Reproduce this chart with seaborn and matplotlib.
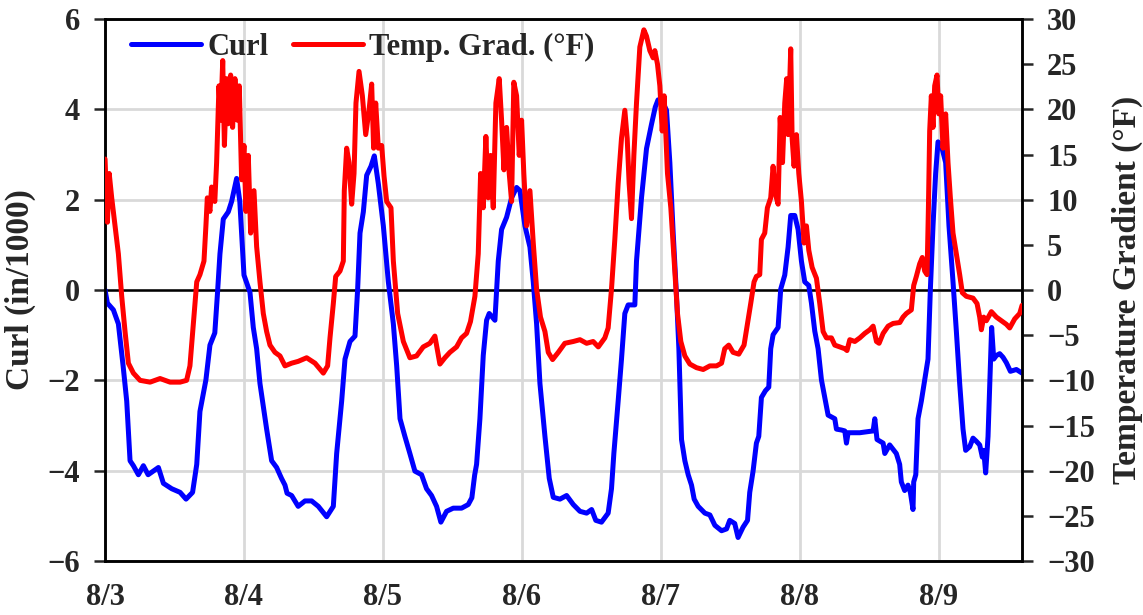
import numpy as np
import pandas as pd
import matplotlib
matplotlib.use("Agg")
import matplotlib.pyplot as plt
import seaborn as sns

# ---- data (time in days since 8/3 00:00) ----
curl_t = [0.000, 0.017, 0.060, 0.096, 0.130, 0.156, 0.180, 0.204, 0.240, 0.276, 0.310, 0.384, 0.420, 0.480,
          0.540, 0.583, 0.630, 0.660, 0.683, 0.726, 0.755, 0.790, 0.808, 0.827, 0.851, 0.887, 0.911, 0.947,
          0.970, 1.000, 1.043, 1.067, 1.091, 1.115, 1.163, 1.199, 1.235, 1.270, 1.295, 1.310, 1.343, 1.390,
          1.439, 1.487, 1.535, 1.595, 1.643, 1.667, 1.703, 1.727, 1.763, 1.799, 1.818, 1.835, 1.859, 1.883,
          1.914, 1.938, 1.967, 2.003, 2.039, 2.075, 2.099, 2.123, 2.158, 2.194, 2.230, 2.278, 2.314, 2.350,
          2.386, 2.417, 2.458, 2.506, 2.566, 2.614, 2.640, 2.660, 2.674, 2.698, 2.722, 2.746, 2.765, 2.806,
          2.830, 2.854, 2.890, 2.926, 2.962, 2.986, 3.022, 3.058, 3.082, 3.106, 3.130, 3.166, 3.197, 3.226,
          3.274, 3.322, 3.370, 3.418, 3.466, 3.502, 3.532, 3.573, 3.621, 3.645, 3.662, 3.693, 3.717, 3.741,
          3.765, 3.813, 3.825, 3.861, 3.897, 3.933, 3.960, 3.980, 4.005, 4.041, 4.065, 4.089, 4.113, 4.130,
          4.149, 4.173, 4.197, 4.221, 4.240, 4.269, 4.317, 4.353, 4.389, 4.437, 4.473, 4.496, 4.532, 4.556,
          4.592, 4.624, 4.640, 4.664, 4.688, 4.705, 4.724, 4.753, 4.777, 4.791, 4.808, 4.844, 4.863, 4.892,
          4.916, 4.935, 4.964, 4.988, 5.012, 5.036, 5.065, 5.084, 5.108, 5.132, 5.156, 5.180, 5.204, 5.252,
          5.264, 5.300, 5.324, 5.336, 5.348, 5.432, 5.528, 5.540, 5.556, 5.600, 5.612, 5.647, 5.695, 5.719,
          5.731, 5.755, 5.779, 5.796, 5.815, 5.820, 5.835, 5.851, 5.875, 5.899, 5.923, 5.940, 5.959, 5.978,
          5.995, 6.019, 6.050, 6.074, 6.103, 6.127, 6.151, 6.175, 6.194, 6.223, 6.247, 6.271, 6.295, 6.314,
          6.324, 6.338, 6.355, 6.372, 6.381, 6.396, 6.415, 6.439, 6.463, 6.487, 6.516, 6.559, 6.600]
curl_v = [0.00, -0.29, -0.44, -0.75, -1.68, -2.46, -3.78, -3.89, -4.09, -3.89, -4.09, -3.93, -4.28, -4.40,
          -4.48, -4.63, -4.48, -3.86, -2.69, -1.99, -1.22, -0.95, -0.13, 0.80, 1.57, 1.73, 1.96, 2.47,
          1.96, 0.33, -0.05, -0.83, -1.30, -2.07, -3.08, -3.78, -3.93, -4.17, -4.32, -4.50, -4.55, -4.79,
          -4.67, -4.67, -4.79, -5.02, -4.79, -3.62, -2.46, -1.53, -1.14, -1.02, 0.02, 1.26, 1.73, 2.54,
          2.74, 2.97, 2.35, 1.42, 0.18, -0.75, -1.68, -2.85, -3.24, -3.62, -4.01, -4.09, -4.40, -4.55,
          -4.79, -5.14, -4.90, -4.83, -4.83, -4.75, -4.60, -4.10, -3.86, -2.85, -1.45, -0.67, -0.52, -0.67,
          0.64, 1.34, 1.61, 2.04, 2.27, 2.20, 1.42, 0.95, 0.18, -0.75, -2.07, -3.24, -4.17, -4.59,
          -4.63, -4.55, -4.75, -4.90, -4.94, -4.86, -5.10, -5.14, -4.94, -4.40, -3.62, -2.46, -1.53, -0.52,
          -0.33, -0.33, 0.64, 2.04, 3.13, 3.67, 4.05, 4.21, 4.21, 3.98, 2.82, 1.26, -0.13, -1.30,
          -3.31, -3.78, -4.09, -4.32, -4.63, -4.79, -4.94, -4.98, -5.21, -5.33, -5.29, -5.10, -5.17, -5.48,
          -5.25, -5.10, -4.48, -4.01, -3.39, -3.24, -2.38, -2.23, -2.15, -1.30, -0.99, -0.83, 0.02, 0.33,
          0.95, 1.65, 1.65, 1.34, 0.64, 0.18, 0.10, -0.29, -0.91, -1.30, -1.99, -2.38, -2.77, -2.85,
          -3.08, -3.10, -3.12, -3.39, -3.16, -3.16, -3.12, -2.85, -3.31, -3.39, -3.62, -3.43, -3.62, -3.86,
          -4.25, -4.44, -4.32, -4.48, -4.86, -4.25, -4.09, -2.85, -2.46, -1.99, -1.53, 0.02, 1.42, 2.58,
          3.28, 3.20, 2.82, 1.42, 0.18, -0.91, -2.07, -3.08, -3.55, -3.47, -3.28, -3.35, -3.43, -3.70,
          -3.55, -4.05, -3.24, -1.68, -0.83, -1.53, -1.45, -1.41, -1.49, -1.61, -1.80, -1.76, -1.84]

temp_t = [0.000, 0.017, 0.030, 0.048, 0.072, 0.096, 0.120, 0.144, 0.168, 0.204, 0.252, 0.324, 0.396, 0.468,
          0.540, 0.587, 0.611, 0.635, 0.660, 0.683, 0.712, 0.726, 0.736, 0.755, 0.767, 0.790, 0.803, 0.820,
          0.832, 0.847, 0.859, 0.875, 0.887, 0.904, 0.918, 0.935, 0.952, 0.966, 0.983, 1.000, 1.014, 1.031,
          1.048, 1.072, 1.091, 1.115, 1.139, 1.163, 1.187, 1.223, 1.259, 1.295, 1.343, 1.390, 1.451, 1.511,
          1.571, 1.602, 1.619, 1.643, 1.660, 1.691, 1.715, 1.722, 1.739, 1.756, 1.775, 1.792, 1.806, 1.828,
          1.852, 1.876, 1.900, 1.919, 1.933, 1.948, 1.967, 1.991, 2.008, 2.027, 2.058, 2.075, 2.106, 2.147,
          2.194, 2.242, 2.290, 2.338, 2.374, 2.410, 2.446, 2.482, 2.530, 2.566, 2.602, 2.630, 2.662, 2.686,
          2.703, 2.722, 2.741, 2.758, 2.775, 2.794, 2.813, 2.837, 2.854, 2.871, 2.890, 2.909, 2.926, 2.942,
          2.962, 2.981, 2.998, 3.014, 3.034, 3.058, 3.082, 3.106, 3.134, 3.166, 3.190, 3.221, 3.262, 3.309,
          3.370, 3.418, 3.466, 3.513, 3.550, 3.597, 3.621, 3.645, 3.669, 3.693, 3.717, 3.741, 3.758, 3.772,
          3.789, 3.806, 3.825, 3.849, 3.878, 3.897, 3.921, 3.945, 3.957, 3.976, 3.993, 4.010, 4.024, 4.048,
          4.072, 4.096, 4.120, 4.144, 4.173, 4.209, 4.257, 4.305, 4.353, 4.401, 4.437, 4.460, 4.489, 4.520,
          4.561, 4.599, 4.623, 4.647, 4.671, 4.688, 4.712, 4.724, 4.748, 4.767, 4.791, 4.808, 4.825, 4.844,
          4.859, 4.876, 4.892, 4.906, 4.916, 4.935, 4.945, 4.959, 4.976, 4.993, 5.012, 5.031, 5.048, 5.065,
          5.089, 5.120, 5.144, 5.168, 5.192, 5.228, 5.252, 5.288, 5.324, 5.340, 5.360, 5.396, 5.432, 5.468,
          5.504, 5.528, 5.552, 5.571, 5.600, 5.636, 5.672, 5.720, 5.743, 5.767, 5.803, 5.820, 5.839, 5.863,
          5.882, 5.899, 5.916, 5.926, 5.935, 5.947, 5.959, 5.971, 5.988, 6.000, 6.014, 6.031, 6.050, 6.067,
          6.084, 6.103, 6.127, 6.151, 6.170, 6.199, 6.247, 6.276, 6.295, 6.307, 6.324, 6.343, 6.379, 6.415,
          6.451, 6.487, 6.511, 6.547, 6.583, 6.600]
temp_v = [14.5, 7.5, 12.9, 10.2, 7.1, 4.0, -0.7, -4.6, -8.1, -9.2, -10.0, -10.2, -9.8, -10.2,
          -10.2, -10.0, -8.4, -3.8, 0.9, 1.7, 3.2, 7.1, 10.2, 8.7, 11.4, 9.8, 14.1, 22.6,
          18.8, 25.4, 16.0, 23.4, 18.4, 23.8, 18.0, 23.4, 18.8, 22.6, 12.2, 16.0, 8.7, 14.9,
          6.3, 11.0, 4.8, 0.9, -2.6, -4.6, -6.1, -6.9, -7.3, -8.4, -8.1, -7.9, -7.5, -8.1,
          -9.2, -8.4, -5.3, -1.5, 1.5, 2.1, 3.2, 11.0, 15.7, 14.1, 9.5, 12.9, 20.7, 24.2,
          21.5, 17.2, 19.9, 22.8, 15.7, 20.7, 15.7, 16.0, 12.6, 9.8, 9.1, 3.2, -2.6, -5.7,
          -7.5, -7.3, -6.3, -5.9, -5.1, -8.2, -7.5, -6.9, -6.3, -5.3, -4.8, -3.5, -0.7, 4.0,
          12.9, 9.1, 17.0, 10.2, 14.9, 9.1, 20.7, 23.4, 18.8, 13.3, 18.0, 12.9, 9.8, 23.0,
          21.5, 14.9, 18.8, 12.9, 7.1, 11.0, 5.2, 0.1, -3.0, -4.6, -6.9, -7.7, -6.9, -5.9,
          -5.7, -5.5, -5.9, -5.7, -6.3, -5.3, -4.2, 0.1, 5.6, 11.8, 16.8, 19.9, 16.8, 11.8,
          7.9, 14.9, 20.7, 26.9, 28.8, 28.1, 26.5, 25.7, 26.5, 25.0, 22.6, 17.6, 21.5, 12.9,
          9.1, 3.2, -2.6, -5.7, -7.3, -8.2, -8.6, -8.8, -8.4, -8.4, -8.1, -6.5, -6.1, -6.9,
          -7.1, -6.1, -3.8, -1.5, 0.9, 1.5, 1.7, 5.6, 6.3, 9.1, 10.2, 13.7, 10.6, 9.5,
          19.1, 14.1, 20.7, 23.4, 17.2, 26.7, 16.8, 13.7, 17.2, 12.9, 9.8, 5.2, 7.1, 4.4,
          2.5, 1.3, -1.5, -4.6, -5.3, -5.3, -6.1, -6.3, -6.5, -6.7, -5.5, -5.7, -5.3, -4.8,
          -4.4, -4.0, -5.7, -5.9, -4.8, -4.0, -3.7, -3.6, -3.0, -2.6, -2.2, 0.5, 1.5, 2.9,
          3.6, 2.1, 1.7, 9.1, 17.6, 21.5, 18.0, 22.6, 23.8, 19.5, 21.5, 15.7, 19.5, 14.1,
          10.2, 6.3, 4.0, 1.7, -0.3, -0.7, -0.9, -1.5, -3.0, -4.4, -3.0, -3.4, -2.4, -3.0,
          -3.4, -3.8, -4.2, -3.2, -2.6, -1.7]

day_ticks = [0, 1, 2, 3, 4, 5, 6]
day_labels = ["8/3", "8/4", "8/5", "8/6", "8/7", "8/8", "8/9"]
curl_ticks = [-6, -4, -2, 0, 2, 4, 6]
temp_ticks = [-30, -25, -20, -15, -10, -5, 0, 5, 10, 15, 20, 25, 30]

curl_df = pd.DataFrame({"t": curl_t, "v": curl_v})
temp_df = pd.DataFrame({"t": temp_t, "v": temp_v})

sns.set_theme(style="white")
plt.rcParams["font.family"] = ["Liberation Serif", "DejaVu Serif"]
plt.rcParams["font.weight"] = "bold"

FS = 22
FS_LAB = 24
fig = plt.figure(figsize=(11.43, 6.15), dpi=100)
ax = fig.add_axes([0.0919, 0.0878, 0.8023, 0.8813])
ax2 = ax.twinx()

ax.set_xlim(0, 6.6)
ax.set_ylim(-6, 6)
ax2.set_ylim(-30, 30)

ax.set_xticks(day_ticks)
ax.set_xticklabels(day_labels)
ax.set_yticks(curl_ticks)
ax2.set_yticks(temp_ticks)

ax.grid(True, color="#d9d9d9", linewidth=2)
ax.axhline(0, color="black", linewidth=1.8, zorder=1.5)

sns.lineplot(data=curl_df, x="t", y="v", ax=ax, color="#0000ff", linewidth=3.6,
             estimator=None, sort=False, label="Curl", legend=False, zorder=3)
sns.lineplot(data=temp_df, x="t", y="v", ax=ax2, color="#ff0000", linewidth=3.6,
             estimator=None, sort=False, label="Temp. Grad. (°F)", legend=False, zorder=3)

ax.set_xlabel("")
ax.set_ylabel("Curl (in/1000)", fontsize=FS_LAB, fontweight="bold", labelpad=8)
ax2.set_ylabel("Temperature Gradient (°F)", fontsize=FS_LAB, fontweight="bold", labelpad=12)

ax.tick_params(axis="y", direction="out", length=8, width=1.8, pad=10, labelsize=FS, left=True)
ax.tick_params(axis="x", length=0, pad=16, labelsize=FS)
ax2.tick_params(axis="y", direction="out", length=8, width=1.8, pad=10, labelsize=FS, right=True)
for lab in ax.get_xticklabels() + ax.get_yticklabels() + ax2.get_yticklabels():
    lab.set_fontweight("bold")

for a in (ax, ax2):
    for s in a.spines.values():
        s.set_color("black")
        s.set_linewidth(1.8)

h1, l1 = ax.get_legend_handles_labels()
h2, l2 = ax2.get_legend_handles_labels()
leg = ax2.legend(h1 + h2, l1 + l2, loc="upper left", bbox_to_anchor=(-0.002, 1.025), ncol=2,
                 frameon=False, handlelength=2.3, handletextpad=0.2,
                 columnspacing=0.8, prop={"weight": "bold", "size": FS})

fig.savefig("out.png", dpi=100)
